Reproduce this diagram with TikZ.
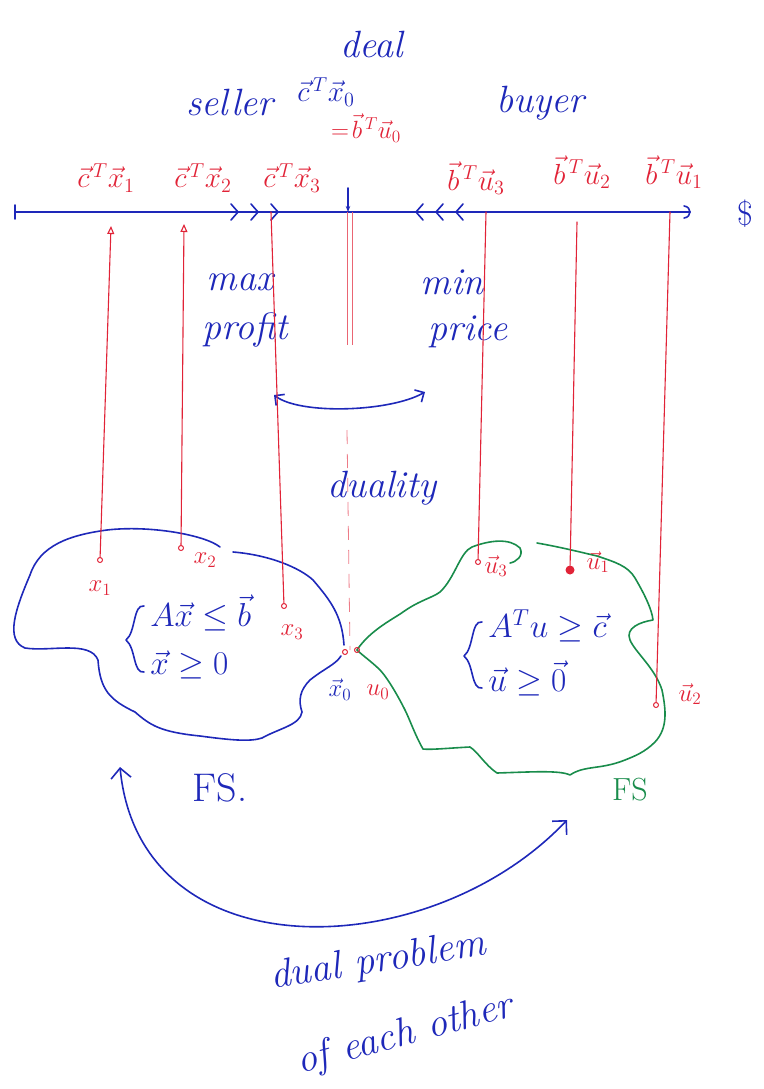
\documentclass[tikz,border=0pt]{standalone}
\usepackage{fontspec}
\usetikzlibrary{arrows.meta}
\definecolor{pen}{RGB}{30,40,185}
\definecolor{rpen}{RGB}{225,35,55}
\definecolor{gpen}{RGB}{25,140,75}
\tikzset{
  ink/.style={pen, line width=1.6pt, line cap=round, line join=round},
  rink/.style={rpen, line width=1.1pt, line cap=round},
  gink/.style={gpen, line width=1.6pt, line cap=round, line join=round},
  word/.style={text=pen, font=\fontsize{38}{40}\selectfont\itshape, inner sep=0pt},
  rlab/.style={text=rpen, font=\fontsize{20}{22}\selectfont, scale=1.4, inner sep=0pt},
  slab/.style={text=rpen, font=\fontsize{20}{22}\selectfont, scale=1.2, inner sep=0pt},
  blab/.style={text=pen, font=\fontsize{20}{22}\selectfont, scale=1.4, inner sep=0pt},
  eqn/.style={text=pen, font=\fontsize{20}{22}\selectfont, scale=1.6, inner sep=0pt},
  dot/.style={circle, draw=rpen, line width=1pt, minimum size=5pt, inner sep=0pt},
  fdot/.style={circle, fill=rpen, minimum size=9pt, inner sep=0pt},
  tip/.style={-{Triangle[open,length=8pt,width=7pt]}},
}
\begin{document}
\begin{tikzpicture}[x=1pt,y=-1pt]
\useasboundingbox (0,0) rectangle (763,1089);
% ---- axis ----
\coordinate (axL) at (15,212);
\coordinate (axR) at (690,212);
\draw[ink] (axL) -- (axR);
\draw[ink] (15,205) -- (15,219);
\draw[ink] (684,206) .. controls (692,207) and (692,217) .. (684,218);
\node[text=pen, font=\fontsize{34}{36}\selectfont, inner sep=0pt] (dollar) at (745,214) {\$};
% chevrons
\foreach \cx in {238,258,278} {\draw[ink] (\cx-7,204) -- (\cx,212) -- (\cx-7,220);}
\foreach \cx in {416,436,456} {\draw[ink] (\cx+7,204) -- (\cx,212) -- (\cx+7,220);}
\coordinate (dealpt) at (348,212);
\draw[ink,-{Stealth[length=6pt]}] (348,188) -- (dealpt);
% ---- top words ----
\node[word] (deal) at (372,45) {deal};
\node[word] (seller) at (230,103) {seller};
\node[word] (buyer) at (540,103) {buyer};
\node[blab] (cx0) at (326,92) {$\vec{c}^{\,T}\vec{x}_0$};
\node[slab] (bu0) at (366,128) {$=\!\vec{b}^{\,T}\vec{u}_0$};
% ---- value labels ----
\node[rlab] (l1) at (106,178) {$\vec{c}^{\,T}\vec{x}_1$};
\node[rlab] (l2) at (203,178) {$\vec{c}^{\,T}\vec{x}_2$};
\node[rlab] (l3) at (292,178) {$\vec{c}^{\,T}\vec{x}_3$};
\node[rlab] (l4) at (476,178) {$\vec{b}^{\,T}\vec{u}_3$};
\node[rlab] (l5) at (582,172) {$\vec{b}^{\,T}\vec{u}_2$};
\node[rlab] (l6) at (674,172) {$\vec{b}^{\,T}\vec{u}_1$};
% axis points
\coordinate (a1) at (111,226);
\coordinate (a2) at (184,224);
\coordinate (a3) at (271,212);
\coordinate (a4) at (486,212);
\coordinate (a5) at (577,222);
\coordinate (a6) at (670,212);
% ---- max / min ----
\node[word] (max) at (240,282) {max};
\node[word] (profit) at (245,330) {profit};
\node[word] (min) at (452,282) {min};
\node[word] (price) at (468,332) {price};
\coordinate (dl) at (274,395);
\coordinate (dr) at (425,392);
\draw[ink,{Straight Barb[length=7pt]}-{Straight Barb[length=7pt]}] (dl) .. controls (300,415) and (390,412) .. (dr);
\node[word] (duality) at (382,488) {duality};
% ---- middle dashed ----
\draw[rpen!70, line width=0.8pt] (347,212) -- (347,345);
\draw[rpen!70, line width=0.8pt] (352,212) -- (352,345);
\draw[rpen!60, line width=0.8pt, dash pattern=on 14pt off 10pt] (347,430) -- (350,650);
% ---- left feasible set ----
\draw[ink] (220,547) .. controls (205,535) and (150,525) .. (107,530)
  .. controls (70,535) and (40,545) .. (30,575)
  .. controls (15,610) and (5,640) .. (25,648)
  .. controls (50,652) and (90,640) .. (98,660)
  .. controls (100,690) and (110,700) .. (135,712)
  .. controls (150,725) and (160,732) .. (200,736)
  .. controls (230,740) and (250,742) .. (262,738)
  .. controls (280,728) and (300,725) .. (302,712)
  .. controls (298,700) and (300,690) .. (310,680)
  .. controls (325,668) and (335,665) .. (341,656);
\draw[ink] (233,552) .. controls (270,555) and (300,568) .. (313,580)
  .. controls (330,600) and (342,615) .. (344,645);
\draw[ink] (144,606) .. controls (133,604) and (136,632) .. (126,640)
  .. controls (136,648) and (133,674) .. (144,672);
\node[eqn, anchor=west] (ineqL) at (150,640) {$\begin{array}{@{}l@{}}A\vec{x}\le\vec{b}\\[8pt]\vec{x}\ge 0\end{array}$};
% ---- right feasible set ----
\draw[gink] (357,650) .. controls (370,630) and (395,618) .. (403,612)
  .. controls (420,600) and (432,598) .. (440,592)
  .. controls (455,578) and (460,552) .. (472,547)
  .. controls (490,540) and (510,538) .. (520,548)
  .. controls (524,556) and (516,562) .. (510,563);
\draw[gink] (537,543) .. controls (560,547) and (580,552) .. (597,556)
  .. controls (615,562) and (628,566) .. (635,578)
  .. controls (645,595) and (652,610) .. (653,620)
  .. controls (640,622) and (625,628) .. (630,640)
  .. controls (635,652) and (655,668) .. (662,690)
  .. controls (666,710) and (668,728) .. (655,742)
  .. controls (645,752) and (635,756) .. (625,760)
  .. controls (600,770) and (585,765) .. (570,775)
  .. controls (560,770) and (530,772) .. (497,773)
  .. controls (485,765) and (478,752) .. (470,747)
  .. controls (450,748) and (430,750) .. (423,749)
  .. controls (415,735) and (410,720) .. (405,710)
  .. controls (395,690) and (385,675) .. (380,670)
  .. controls (372,662) and (362,655) .. (357,650);
\draw[ink] (482,622) .. controls (471,620) and (474,648) .. (464,656)
  .. controls (474,664) and (471,690) .. (482,688);
\node[eqn, anchor=west] (ineqR) at (488,656) {$\begin{array}{@{}l@{}}A^{T}u\ge\vec{c}\\[8pt]\vec{u}\ge\vec{0}\end{array}$};
% ---- points ----
\node[dot] (x1) at (100,560) {};
\node[dot] (x2) at (181,548) {};
\node[dot] (x3) at (284,606) {};
\node[dot] (x0) at (345,652) {};
\node[dot] (u0) at (357,650) {};
\node[dot] (u3) at (478,562) {};
\node[fdot] (u2) at (570,570) {};
\node[dot] (u1) at (656,705) {};
\node[slab] (x1l) at (100,588) {$x_1$};
\node[slab] (x2l) at (205,560) {$x_2$};
\node[slab] (x3l) at (292,632) {$x_3$};
\node[blab, scale=0.85] (x0l) at (340,690) {$\vec{x}_0$};
\node[slab] (u0l) at (378,692) {$u_0$};
\node[slab] (u3l) at (496,566) {$\vec{u}_3$};
\node[slab] (u2l) at (598,562) {$\vec{u}_1$};
\node[slab] (u1l) at (690,694) {$\vec{u}_2$};
% ---- red connectors ----
\draw[rink,tip] (x1) -- (a1);
\draw[rink,tip] (x2) -- (a2);
\draw[rink] (x3) -- (a3);
\draw[rink] (u3) -- (a4);
\draw[rink] (u2) -- (a5);
\draw[rink] (u1) -- (a6);
% ---- FS labels ----
\node[text=pen, font=\fontsize{40}{42}\selectfont, inner sep=0pt] (fsL) at (220,788) {FS.};
\node[text=gpen, font=\fontsize{32}{34}\selectfont, inner sep=0pt] (fsR) at (630,790) {FS};
% ---- big double arrow ----
\coordinate (bA) at (120,767);
\coordinate (bB) at (567,820);
\draw[ink,{Straight Barb[length=10pt]}-{Straight Barb[length=10pt]}] (bA) .. controls (140,975) and (430,965) .. (bB);
\node[word, font=\fontsize{40}{42}\selectfont\itshape, rotate=9] (dual) at (378,962) {dual problem};
\node[word, font=\fontsize{40}{42}\selectfont\itshape, rotate=15] (each) at (405,1035) {of each other};
\end{tikzpicture}
\end{document}
